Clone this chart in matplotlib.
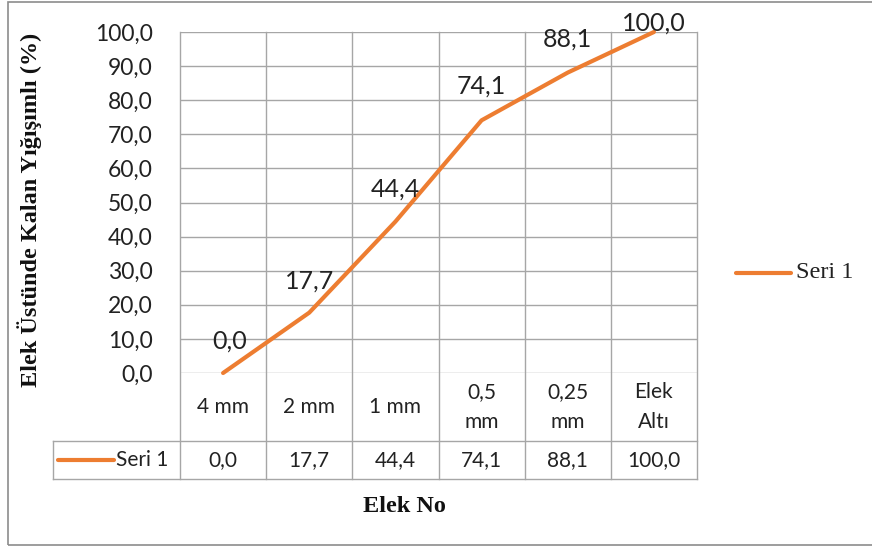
import matplotlib
matplotlib.use("Agg")
import matplotlib.pyplot as plt
from matplotlib.lines import Line2D
from matplotlib.patches import Rectangle

# Sieve analysis: cumulative retained percentage per sieve
categories = ["4 mm", "2 mm", "1 mm", "0,5\nmm", "0,25\nmm", "Elek\nAltı"]
values = [0.0, 17.7, 44.4, 74.1, 88.1, 100.0]
series_name = "Seri 1"
yticks = [0, 10, 20, 30, 40, 50, 60, 70, 80, 90, 100]

ORANGE = "#ED7D31"
GRID = "#A6A6A6"
SANS = "Lato"
SERIF = "Liberation Serif"
TXT = "#222222"

W, H = 872, 547
fig = plt.figure(figsize=(W / 100, H / 100), dpi=100)

def fx(px):
    return px / W

def fy(py):
    return 1 - py / H

def fmt(v):
    return f"{v:.1f}".replace(".", ",")

# plot area
left, right, top, bottom = 180, 697, 32, 373
ax = fig.add_axes([fx(left), fy(bottom), fx(right - left), (bottom - top) / H])
n = len(categories)
xs = list(range(n))
ax.set_xlim(-0.5, n - 0.5)
ax.set_ylim(0, 100)
ax.set_yticks(yticks)
ax.set_yticklabels([fmt(v) for v in yticks], fontsize=16.5, family=SANS, color=TXT)
ax.tick_params(axis="y", length=0, pad=19.5)
ax.set_xticks([])
for s in ax.spines.values():
    s.set_visible(False)

# gridlines
for v in yticks:
    ax.axhline(v, color=GRID, lw=1, zorder=1)

# vertical category borders, extended down through the data table
row1 = -(441 - bottom) / (bottom - top)
row2 = -(479 - bottom) / (bottom - top)
xt = ax.get_xaxis_transform()
for b in [i - 0.5 for i in range(n + 1)]:
    ax.plot([b, b], [row2, 1], color=GRID, lw=1, transform=xt, clip_on=False, zorder=1)

unit = (right - left) / n
tab_left = -0.5 - (left - 53) / unit
ax.plot([tab_left, n - 0.5], [row1, row1], color=GRID, lw=1, transform=xt, clip_on=False)
ax.plot([tab_left, n - 0.5], [row2, row2], color=GRID, lw=1, transform=xt, clip_on=False)
ax.plot([tab_left, tab_left], [row1, row2], color=GRID, lw=1, transform=xt, clip_on=False)

# series line
ax.plot(xs, values, color=ORANGE, lw=3, solid_capstyle="round", zorder=3, clip_on=False)

# data labels
label_offsets = [(7, 32), (0, 32), (0, 33), (0, 34), (0, 34), (0, 9)]
for x, v, (dx, dy) in zip(xs, values, label_offsets):
    ax.annotate(fmt(v), (x, v), xytext=(dx, dy), textcoords="offset pixels",
                ha="center", va="center", fontsize=18, family=SANS, color=TXT,
                zorder=4)

# category labels and table values
cat_y = row1 / 2
val_y = (row1 + row2) / 2
for x, c, v in zip(xs, categories, values):
    ax.text(x, cat_y, c, transform=xt, ha="center", va="center", fontsize=15,
            family=SANS, color=TXT, linespacing=1.6)
    ax.text(x, val_y, fmt(v), transform=xt, ha="center", va="center",
            fontsize=15, family=SANS, color=TXT)

# legend key inside the table
kx0 = -0.5 - (left - 58) / unit
kx1 = -0.5 - (left - 114) / unit
ax.plot([kx0, kx1], [val_y, val_y], color=ORANGE, lw=3, solid_capstyle="round",
        transform=xt, clip_on=False)
ax.text(-0.5 - (left - 116) / unit, val_y, series_name, transform=xt, ha="left",
        va="center", fontsize=15, family=SANS, color=TXT)

# axis titles
fig.text(fx(30), fy(210), "Elek Üstünde Kalan Yığışımlı (%)", rotation=90,
         ha="center", va="center", fontsize=17.5, family=SERIF, weight="bold",
         color="#111111")
fig.text(fx(404), fy(507), "Elek No", ha="center", va="center", fontsize=17.5,
         family=SERIF, weight="bold", color="#111111")

# right-hand legend
fig.add_artist(Line2D([fx(736), fx(791)], [fy(273), fy(273)], color=ORANGE, lw=3,
                      solid_capstyle="round", transform=fig.transFigure))
fig.text(fx(796), fy(273), series_name, ha="left", va="center", fontsize=17.5,
         family=SERIF, color=TXT)

# chart frame (right edge runs past the canvas)
fig.add_artist(Rectangle((fx(8), fy(545)), fx(890 - 8), (545 - 2) / H,
                         transform=fig.transFigure, fill=False,
                         edgecolor="#8C8C8C", lw=1.2))

fig.savefig("out.png", dpi=100)
